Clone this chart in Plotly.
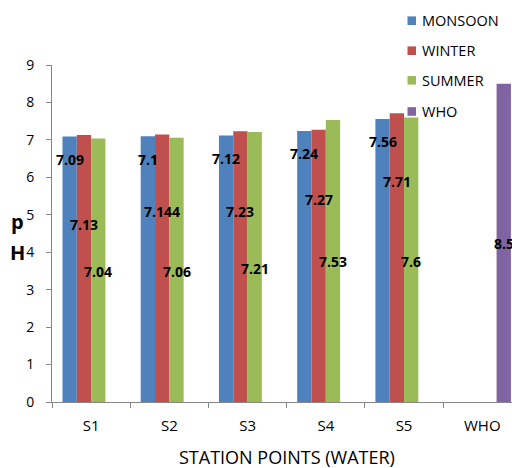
import plotly.graph_objects as go

# pH of water at each station point, by season, with the WHO guideline value
categories = ["S1", "S2", "S3", "S4", "S5", "WHO"]
stations = ["S1", "S2", "S3", "S4", "S5"]
monsoon = [7.09, 7.1, 7.12, 7.24, 7.56]
winter = [7.13, 7.144, 7.23, 7.27, 7.71]
summer = [7.04, 7.06, 7.21, 7.53, 7.6]
who_cat = ["WHO"]
who = [8.5]

series_names = ["MONSOON", "WINTER", "SUMMER", "WHO"]
colors = ["#4F81BD", "#C0504D", "#9BBB59", "#8064A2"]

# heights (in axis units) at which the value labels sit inside each bar
label_heights = [
    [6.48, 6.48, 6.51, 6.64, 6.95],
    [4.73, 5.10, 5.10, 5.41, 5.90],
    [3.48, 3.48, 3.57, 3.75, 3.75],
    [4.22],
]

W, H = 512, 468
ML, MR, MT, MB = 52, 0, 65, 66
PW, PH = W - ML - MR, H - MT - MB
BARGAP = 0.268
FONT = "Open Sans"


def px_to_paper(px, py):
    return (px - ML) / PW, (H - MB - py) / PH


fig = go.Figure()
xs_all = [stations, stations, stations, who_cat]
ys_all = [monsoon, winter, summer, who]
for name, xs, ys, col in zip(series_names, xs_all, ys_all, colors):
    fig.add_trace(go.Bar(name=name, x=xs, y=ys, marker=dict(color=col, line=dict(width=0)),
                         showlegend=False, hoverinfo="x+y"))

# value labels centred on each bar of the group
slot_w = (1 - BARGAP) / 4
annotations = []
for s, (xs, ys, hs) in enumerate(zip(xs_all, ys_all, label_heights)):
    for cat, val, h in zip(xs, ys, hs):
        idx = categories.index(cat)
        annotations.append(dict(
            x=idx + (s - 1.5) * slot_w, y=h, xref="x", yref="y",
            text=f"{val:g}", showarrow=False,
            font=dict(family=FONT, size=14, color="#000000", weight="bold"),
            xanchor="center", yanchor="middle"))

# legend: coloured squares with series names
legend_y = [20.7, 50.7, 80.3, 111.5]
shapes = []
for name, col, yc in zip(series_names, colors, legend_y):
    x0, y0 = px_to_paper(407.5, yc + 4.3)
    x1, y1 = px_to_paper(416, yc - 4.3)
    shapes.append(dict(type="rect", xref="paper", yref="paper", x0=x0, y0=y0, x1=x1, y1=y1,
                       fillcolor=col, line=dict(width=0)))
    tx, ty = px_to_paper(419.5, yc)
    annotations.append(dict(x=tx, y=ty, xref="paper", yref="paper", text=name, showarrow=False,
                            xanchor="left", yanchor="middle",
                            font=dict(family=FONT, size=14.5, color="#000000")))

# axis titles
tx, ty = px_to_paper(287, 457)
annotations.append(dict(x=tx, y=ty, xref="paper", yref="paper", text="STATION POINTS (WATER)",
                        showarrow=False, xanchor="center", yanchor="middle",
                        font=dict(family=FONT, size=18, color="#000000")))
for ch, yc in (("p", 221), ("H", 253)):
    tx, ty = px_to_paper(17, yc)
    annotations.append(dict(x=tx, y=ty, xref="paper", yref="paper", text=ch, showarrow=False,
                            xanchor="center", yanchor="middle",
                            font=dict(family=FONT, size=20, color="#000000", weight="bold")))

axis_col = "#868686"
fig.update_layout(
    width=W, height=H,
    margin=dict(l=ML, r=MR, t=MT, b=MB, pad=0),
    paper_bgcolor="white", plot_bgcolor="white",
    barmode="group", bargap=BARGAP, bargroupgap=0,
    font=dict(family=FONT, size=14, color="#000000"),
    annotations=annotations, shapes=shapes,
    xaxis=dict(type="category", categoryorder="array", categoryarray=categories,
               range=[-0.5, -0.5 + PW / 78.23], showgrid=False, showline=True,
               linecolor=axis_col, linewidth=1, ticks="outside", tickson="boundaries",
               ticklen=5, tickcolor=axis_col, ticklabelstandoff=10,
               tickfont=dict(family=FONT, size=15, color="#000000")),
    yaxis=dict(range=[0, 9], dtick=1, showgrid=False, showline=True, linecolor=axis_col,
               linewidth=1, ticks="outside", ticklen=5, tickcolor=axis_col,
               ticklabelstandoff=9, zeroline=False,
               tickfont=dict(family=FONT, size=14, color="#000000")),
)

fig.write_html("out.html")
